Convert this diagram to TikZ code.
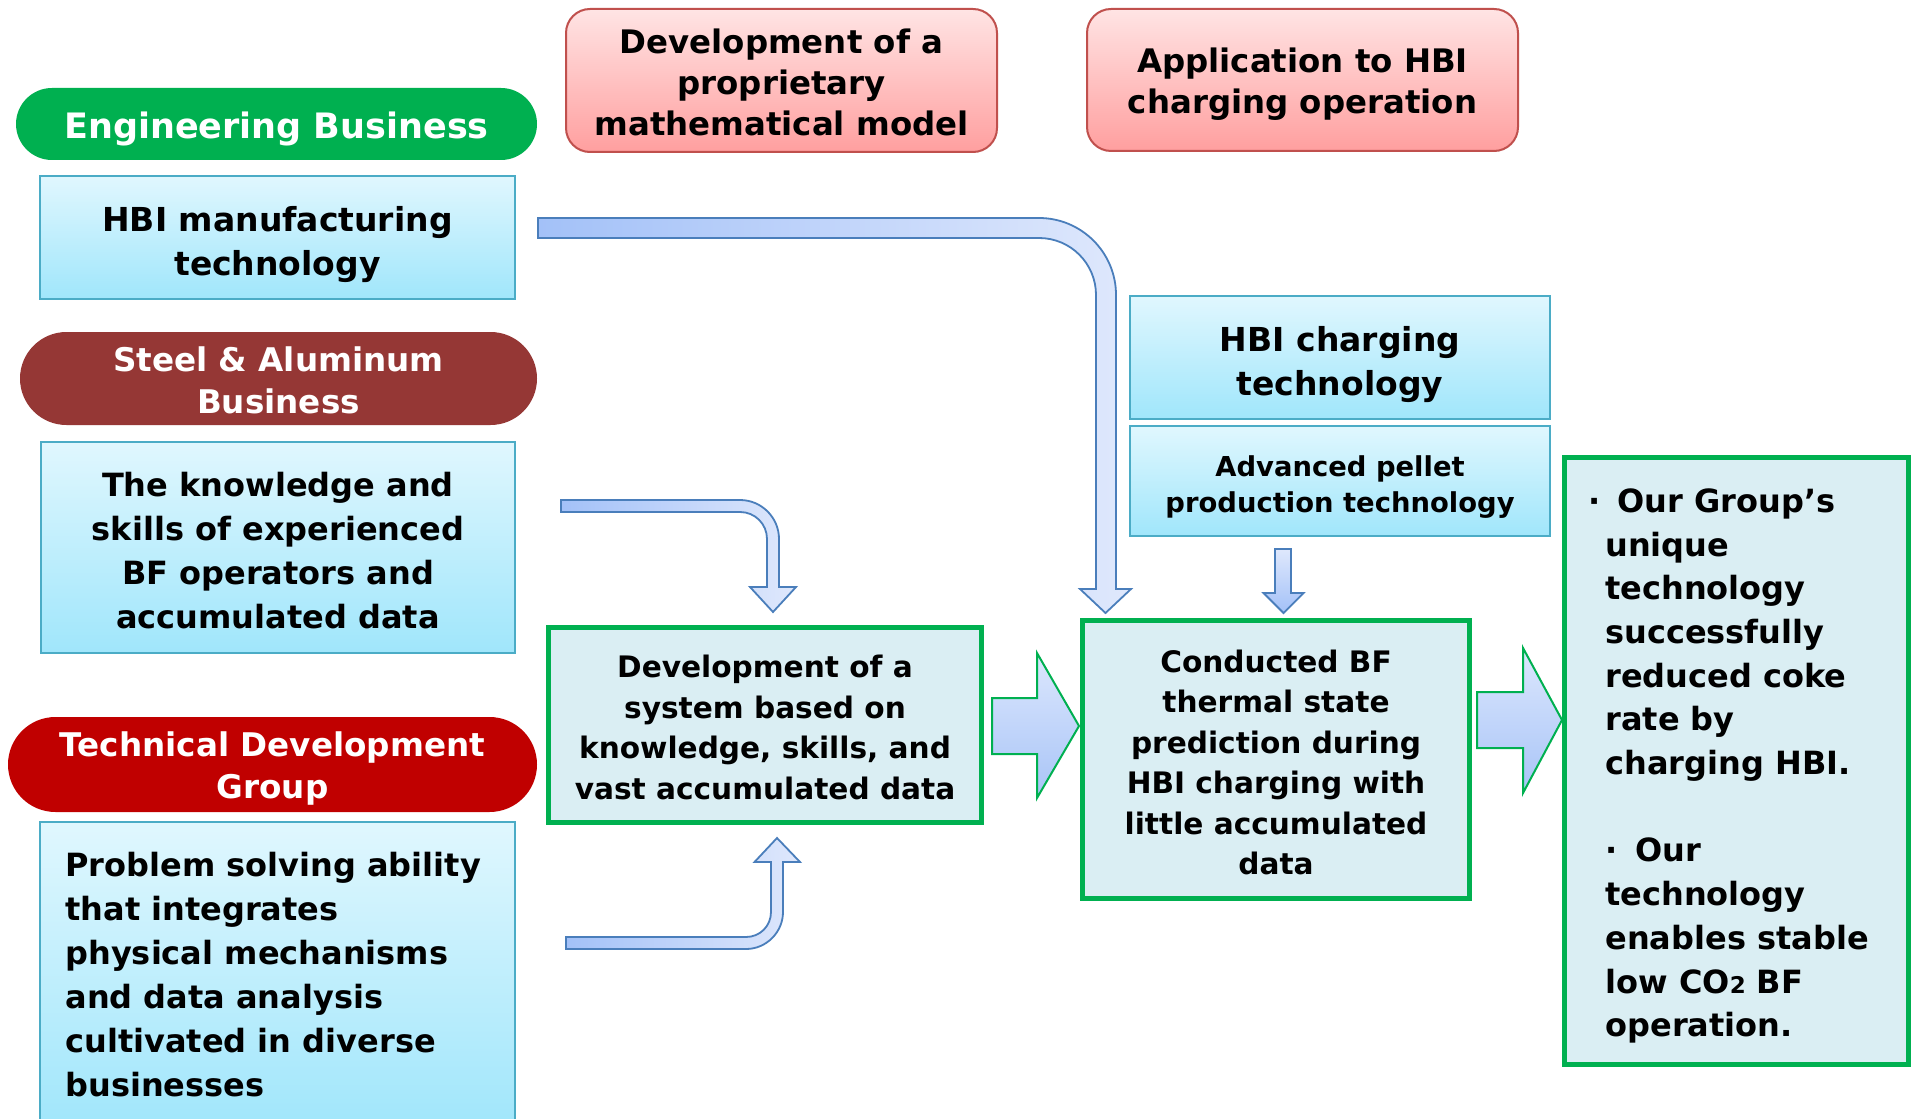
\documentclass[tikz,border=0pt]{standalone}
\usepackage{fontspec}
\setmainfont{DejaVu Sans}
\usetikzlibrary{shapes.misc}
\definecolor{engG}{HTML}{00B050}
\definecolor{steelR}{HTML}{953735}
\definecolor{techR}{HTML}{C00000}
\definecolor{bbTop}{HTML}{E0F7FE}
\definecolor{bbBot}{HTML}{A0E6FB}
\definecolor{bbLine}{HTML}{4BACC6}
\definecolor{pkTop}{HTML}{FFE4E4}
\definecolor{pkBot}{HTML}{FF9F9F}
\definecolor{pkLine}{HTML}{C0504D}
\definecolor{gbFill}{HTML}{DAEEF3}
\definecolor{arrL}{HTML}{A3C1F8}
\definecolor{arrR}{HTML}{DFE8FC}
\definecolor{arrLine}{HTML}{4A7EBB}
\definecolor{baTop}{HTML}{DCE7FD}
\definecolor{baBot}{HTML}{A8C4F7}
\begin{document}
\begin{tikzpicture}[x=0.5pt,y=-0.5pt,
  pillbox/.style={rounded rectangle, inner sep=0pt},
  bluebox/.style={rectangle, draw=bbLine, line width=1pt, top color=bbTop, bottom color=bbBot, inner sep=0pt},
  pinkbox/.style={rectangle, rounded corners=12pt, draw=pkLine, line width=1pt, top color=pkTop,
    bottom color=pkBot, inner sep=0pt},
  greenbox/.style={rectangle, draw=engG, line width=2.5pt, fill=gbFill, inner sep=0pt},
  txt/.style={inner sep=0pt, align=center},
  pilltxt/.style={txt, text=white},
  bigfont/.style={font={\fontsize{16}{22}\selectfont\bfseries}},
  pinkfont/.style={font={\fontsize{16.2}{20.7}\selectfont\bfseries}},
  greenfont/.style={font={\fontsize{14.8}{20.2}\selectfont\bfseries}},
  bentarrow/.style={draw=arrLine, line width=0.9pt, left color=arrL, right color=arrR},
  downarrow/.style={draw=arrLine, line width=0.9pt, top color=arrR, bottom color=arrL},
  blockarrow/.style={draw=engG, line width=1pt, top color=baTop, bottom color=baBot}
]
\useasboundingbox (0,0) rectangle (1914,1118);
\fill[white] (0,0) rectangle (1914,1118);

% pills
\node[pillbox, fill=engG, minimum width=260.5pt, minimum height=36pt] (eng) at (276.5,124) {};
\node[pilltxt, font={\fontsize{17.5}{20.7}\selectfont\bfseries}] (engT) at ([yshift=-2.5pt]eng.center) {Engineering Business};
\node[pillbox, fill=steelR, minimum width=258.5pt, minimum height=46.5pt] (steel) at (278.5,378.5) {};
\node[pilltxt, font={\fontsize{16.3}{20.7}\selectfont\bfseries}] (steelT) at ([yshift=-1pt]steel.center) {Steel \& Aluminum\\Business};
\node[pillbox, fill=techR, minimum width=264.5pt, minimum height=47.5pt] (tech) at (272.5,764.5) {};
\node[pilltxt, font={\fontsize{16.3}{20.7}\selectfont\bfseries}] (techT) at ([yshift=-2pt]tech.center) {Technical Development\\Group};

% left blue boxes
\node[bluebox, minimum width=237.5pt, minimum height=61.5pt] (hbim) at (277.5,237.5) {};
\node[txt, font={\fontsize{16.5}{22}\selectfont\bfseries}] (hbimT) at ([yshift=-3.5pt]hbim.center) {HBI manufacturing\\technology};
\node[bluebox, minimum width=237pt, minimum height=105.5pt] (know) at (278,547.5) {};
\node[txt, bigfont] (knowT) at ([yshift=-1.5pt]know.center) {The knowledge and\\skills of experienced\\BF operators and\\accumulated data};
\node[bluebox, minimum width=237.5pt, minimum height=154pt] (prob) at (277.5,976) {};
\node[anchor=west, align=left, inner sep=0pt, bigfont] (probT) at (65,975)
  {Problem solving ability\\that integrates\\physical mechanisms\\and data analysis\\cultivated in diverse\\businesses};

% pink boxes
\node[pinkbox, minimum width=215.5pt, minimum height=71.5pt] (model) at (781.5,80.5) {};
\node[txt, pinkfont] (modelT) at ([yshift=-1pt]model.center) {Development of a\\proprietary\\mathematical model};
\node[pinkbox, minimum width=215.5pt, minimum height=71pt] (appl) at (1302.5,80) {};
\node[txt, pinkfont] (applT) at ([yshift=-2pt]appl.center) {Application to HBI\\charging operation};

% right blue boxes
\node[bluebox, minimum width=210pt, minimum height=61.5pt] (hbic) at (1340,357.5) {};
\node[txt, font={\fontsize{16.5}{22}\selectfont\bfseries}] (hbicT) at ([yshift=-3.5pt]hbic.center) {HBI charging\\technology};
\node[bluebox, minimum width=210pt, minimum height=55pt] (pellet) at (1340,481) {};
\node[txt, font={\fontsize{13.7}{17.7}\selectfont\bfseries}] (pelletT) at ([yshift=-3pt]pellet.center) {Advanced pellet\\production technology};

% green boxes
\node[greenbox, minimum width=216.5pt, minimum height=97.5pt] (sys) at (765,725) {};
\node[txt, greenfont] (sysT) at ([yshift=-1.2pt]sys.center) {Development of a\\system based on\\knowledge, skills, and\\vast accumulated data};
\node[greenbox, minimum width=193.5pt, minimum height=139pt] (pred) at (1276,759.5) {};
\node[txt, greenfont] (predT) at ([yshift=-1.5pt]pred.center) {Conducted BF\\thermal state\\prediction during\\HBI charging with\\little accumulated\\data};
\node[greenbox, minimum width=172pt, minimum height=303.5pt] (res) at (1736.5,761) {};
\node[anchor=west, align=left, inner sep=0pt, font={\fontsize{16}{21.85}\selectfont\bfseries}] (resT) at (1605,766)
  {\llap{·\hspace{2.5pt}}\hspace*{6pt}Our Group’s\\unique\\technology\\successfully\\reduced coke\\rate by\\charging HBI.\\[21.85pt]
   ·\hspace{9pt}Our\\technology\\enables stable\\low CO{\fontsize{11.5}{11.5}\selectfont 2} BF\\operation.};

% bent arrow: HBI manufacturing -> prediction
\path[bentarrow] (538,218) -- (1039,218) .. controls (1081.5,218) and (1116,252.5) .. (1116,295)
  -- (1116,589) -- (1131,589) -- (1105.5,613) -- (1080,589) -- (1096,589) -- (1096,295)
  .. controls (1096,263.5) and (1070.5,238) .. (1039,238) -- (538,238) -- cycle;

% bent arrow: knowledge -> system
\path[bentarrow] (561,500) -- (740,500) .. controls (761.5,500) and (779,517.5) .. (779,539)
  -- (779,587) -- (796,587) -- (773,612) -- (750,587) -- (767,587) -- (767,539)
  .. controls (767,524) and (755,512) .. (740,512) -- (561,512) -- cycle;

% bent arrow: problem solving -> system (upwards)
\path[bentarrow] (566,937) -- (746,937) .. controls (760,937) and (771,926) .. (771,912)
  -- (771,862) -- (754.5,862) -- (777,838) -- (800,862) -- (783,862) -- (783,912)
  .. controls (783,932) and (766.5,949) .. (746,949) -- (566,949) -- cycle;

% small down arrow: pellet -> prediction
\path[downarrow] (1275,549) -- (1291,549) -- (1291,593) -- (1303.5,593) -- (1283.5,613)
  -- (1263.5,593) -- (1275,593) -- cycle;

% block arrows
\path[blockarrow] (992,698) -- (1037,698) -- (1037,653) -- (1079,726) -- (1037,798) -- (1037,754) -- (992,754) -- cycle;
\path[blockarrow] (1477,692) -- (1523,692) -- (1523,648) -- (1562,720) -- (1523,793) -- (1523,748) -- (1477,748) -- cycle;
\end{tikzpicture}
\end{document}
